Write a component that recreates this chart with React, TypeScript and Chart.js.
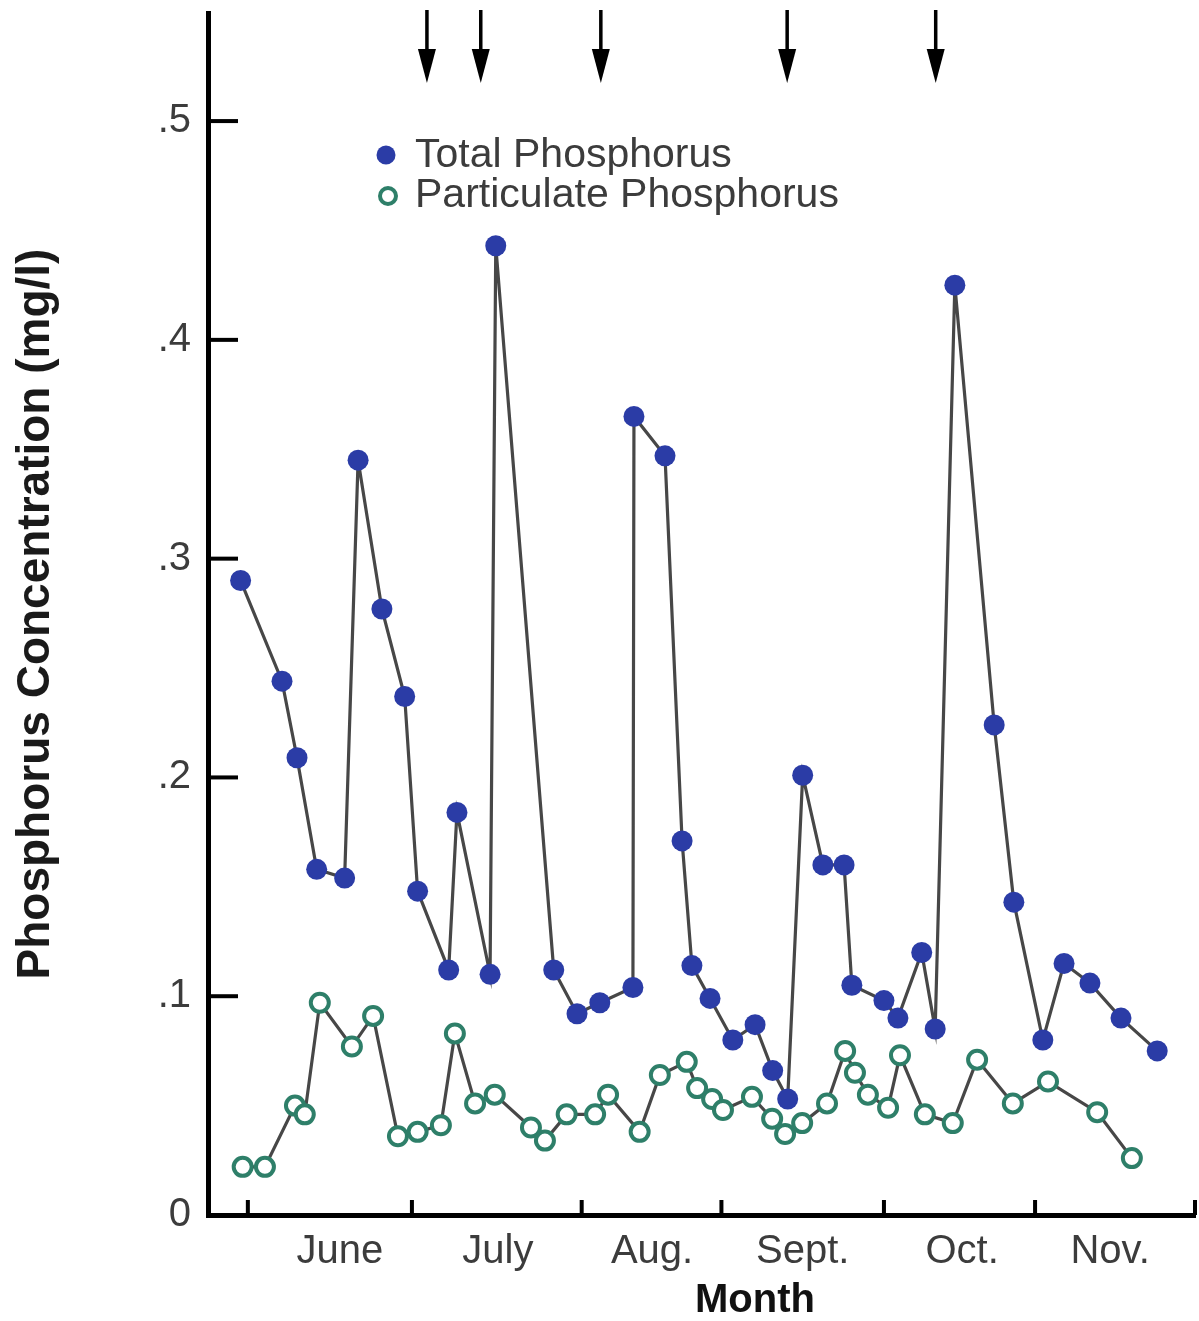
import React, { useEffect, useRef } from "react";
import { Chart, registerables } from "chart.js";

Chart.register(...registerables);

// ---- data (x = days from June 1, y = mg/l) ----
const months = ["June", "July", "Aug.", "Sept.", "Oct.", "Nov."];
const monthStarts = [0, 31.7, 64.5, 91.5, 122.9, 152.1, 183];
const monthLabelDays = [17.8, 48.3, 78.1, 107.2, 138.0, 166.6];
const yTickValues = [0, 0.1, 0.2, 0.3, 0.4, 0.5];
const yTickLabels = ["0", ".1", ".2", ".3", ".4", ".5"];
const eventDays = [34.6, 45.0, 68.2, 104.2, 132.9];
const xTitle = "Month";
const yTitle = "Phosphorus Concentration (mg/l)";

const totalDays = [
  -1.4, 6.6, 9.5, 13.3, 18.7, 21.3, 25.9, 30.3, 32.8, 38.8, 40.4, 46.8, 47.9, 59.1,
  63.6, 68.0, 74.4, 74.6, 80.6, 83.9, 85.8, 89.3, 93.7, 98.0, 101.4, 104.3, 107.2,
  111.1, 115.2, 116.7, 122.9, 125.6, 130.2, 132.8, 136.6, 144.2, 148.0, 153.6,
  157.7, 162.7, 168.7, 175.7,
];
const totalValues = [
  0.290, 0.244, 0.209, 0.158, 0.154, 0.345, 0.277, 0.237, 0.148, 0.112, 0.184,
  0.110, 0.443, 0.112, 0.092, 0.097, 0.104, 0.365, 0.347, 0.171, 0.114, 0.099,
  0.080, 0.087, 0.066, 0.053, 0.201, 0.160, 0.160, 0.105, 0.098, 0.090, 0.120,
  0.085, 0.425, 0.224, 0.143, 0.080, 0.115, 0.106, 0.090, 0.075,
];
const partDays = [
  -1.0, 3.3, 9.1, 11.0, 13.9, 20.1, 24.2, 29.0, 32.8, 37.3, 40.0, 43.9, 47.7, 54.7,
  57.4, 61.6, 67.1, 69.6, 75.7, 79.6, 84.8, 86.8, 89.7, 91.8, 97.4, 101.3, 103.8,
  107.1, 111.9, 115.4, 117.3, 119.8, 123.7, 126.0, 130.8, 136.2, 140.9, 147.8,
  154.6, 164.1, 170.8,
];
const partValues = [
  0.022, 0.022, 0.050, 0.046, 0.097, 0.077, 0.091, 0.036, 0.038, 0.041, 0.083,
  0.051, 0.055, 0.040, 0.034, 0.046, 0.046, 0.055, 0.038, 0.064, 0.070, 0.058,
  0.053, 0.048, 0.054, 0.044, 0.037, 0.042, 0.051, 0.075, 0.065, 0.055, 0.049,
  0.073, 0.046, 0.042, 0.071, 0.051, 0.061, 0.047, 0.026,
];

const seriesNames = ["Total Phosphorus", "Particulate Phosphorus"];

const BLUE = "#2b3ca6";
const GREEN = "#2e7f69";
const LINE = "#474747";
const TEXT = "#3c3c3c";
const FONT = "'Liberation Sans', Arial, Helvetica, sans-serif";

const zeroPadding = (scale: any) => {
  scale.paddingTop = 0;
  scale.paddingBottom = 0;
  scale.paddingLeft = 0;
  scale.paddingRight = 0;
};

const decorPlugin = {
  id: "decor",
  afterDraw(chart: any) {
    const { ctx, chartArea, scales } = chart;
    const xs = scales.x;
    const ys = scales.y;
    ctx.save();
    ctx.fillStyle = "#000";
    // inward y ticks
    yTickValues.forEach((v) => {
      if (v === 0) return;
      const y = ys.getPixelForValue(v);
      ctx.fillRect(chartArea.left, y - 2, 30, 4);
    });
    // inward x ticks at month boundaries
    monthStarts.forEach((d) => {
      const x = xs.getPixelForValue(d);
      ctx.fillRect(x - 2, chartArea.bottom - 15, 4, 15);
    });
    // event arrows
    const top = chartArea.top;
    eventDays.forEach((d) => {
      const x = xs.getPixelForValue(d);
      ctx.fillRect(x - 1.75, top - 3, 3.5, 45);
      ctx.beginPath();
      ctx.moveTo(x - 9, top + 36);
      ctx.lineTo(x + 9, top + 36);
      ctx.lineTo(x, top + 70);
      ctx.closePath();
      ctx.fill();
    });
    // x axis title
    ctx.fillStyle = "#111";
    ctx.font = `bold 40px ${FONT}`;
    ctx.textAlign = "center";
    ctx.textBaseline = "middle";
    ctx.fillText(xTitle, chartArea.left + 547, chartArea.bottom + 86);
    // legend
    const lx = chartArea.left + 178;
    const ly = chartArea.top + 142;
    ctx.beginPath();
    ctx.arc(lx, ly, 9.5, 0, Math.PI * 2);
    ctx.fillStyle = BLUE;
    ctx.fill();
    ctx.beginPath();
    ctx.arc(lx + 2, ly + 41, 8, 0, Math.PI * 2);
    ctx.fillStyle = "#fff";
    ctx.fill();
    ctx.lineWidth = 4;
    ctx.strokeStyle = GREEN;
    ctx.stroke();
    ctx.fillStyle = TEXT;
    ctx.font = `41px ${FONT}`;
    ctx.textBaseline = "middle";
    ctx.textAlign = "left";
    ctx.fillText(seriesNames[0], lx + 29, ly + 1);
    ctx.fillText(seriesNames[1], lx + 29, ly + 41);
    ctx.restore();
  },
};

export default function App() {
  const canvasRef = useRef<HTMLCanvasElement | null>(null);

  useEffect(() => {
    if (!canvasRef.current) return;
    const chart = new Chart(canvasRef.current, {
      type: "line",
      data: {
        datasets: [
          {
            label: seriesNames[0],
            data: totalDays.map((d, i) => ({ x: d, y: totalValues[i] })),
            borderColor: LINE,
            borderWidth: 3.2,
            pointRadius: 10.5,
            pointBackgroundColor: BLUE,
            pointBorderColor: BLUE,
            pointBorderWidth: 0,
            tension: 0,
          },
          {
            label: seriesNames[1],
            data: partDays.map((d, i) => ({ x: d, y: partValues[i] })),
            borderColor: LINE,
            borderWidth: 3.2,
            pointRadius: 9,
            pointBackgroundColor: "#ffffff",
            pointBorderColor: GREEN,
            pointBorderWidth: 4,
            tension: 0,
          },
        ],
      },
      options: {
        animation: false,
        responsive: false,
        devicePixelRatio: 1,
        layout: { autoPadding: false, padding: { top: 13, right: 4, left: 0, bottom: 0 } },
        plugins: {
          legend: { display: false },
          tooltip: { enabled: false },
        },
        scales: {
          x: {
            type: "linear",
            min: -7.7,
            max: 183,
            grid: { display: false, drawTicks: false },
            border: { display: true, color: "#000", width: 5 },
            afterFit: (scale: any) => {
              scale.height = 106;
              zeroPadding(scale);
            },
            afterBuildTicks: (scale: any) => {
              scale.ticks = monthLabelDays.map((v) => ({ value: v }));
            },
            ticks: {
              autoSkip: false,
              maxRotation: 0,
              minRotation: 0,
              padding: 13,
              color: TEXT,
              font: { family: FONT, size: 40 },
              callback: (_v: any, i: number) => months[i],
            },
            title: { display: false, text: xTitle },
          },
          y: {
            type: "linear",
            min: 0,
            max: 0.5494,
            grid: { display: false, drawTicks: false },
            border: { display: true, color: "#000", width: 5 },
            afterFit: (scale: any) => {
              scale.width = 208;
              zeroPadding(scale);
            },
            afterBuildTicks: (scale: any) => {
              scale.ticks = yTickValues.map((v) => ({ value: v }));
            },
            ticks: {
              autoSkip: false,
              padding: 17,
              color: TEXT,
              font: { family: FONT, size: 40 },
              callback: (_v: any, i: number) => yTickLabels[i],
            },
            title: {
              display: true,
              text: yTitle,
              color: "#1a1a1a",
              padding: { top: 13, bottom: 0 },
              font: { family: FONT, size: 46, weight: "bold", lineHeight: 1 },
            },
          },
        },
      },
      plugins: [decorPlugin],
    });
    return () => chart.destroy();
  }, []);

  return (
    <div style={{ position: "absolute", left: 0, top: 0, width: 1199, height: 1321, background: "#fff" }}>
      <canvas ref={canvasRef} width={1199} height={1321} style={{ display: "block" }} />
    </div>
  );
}
